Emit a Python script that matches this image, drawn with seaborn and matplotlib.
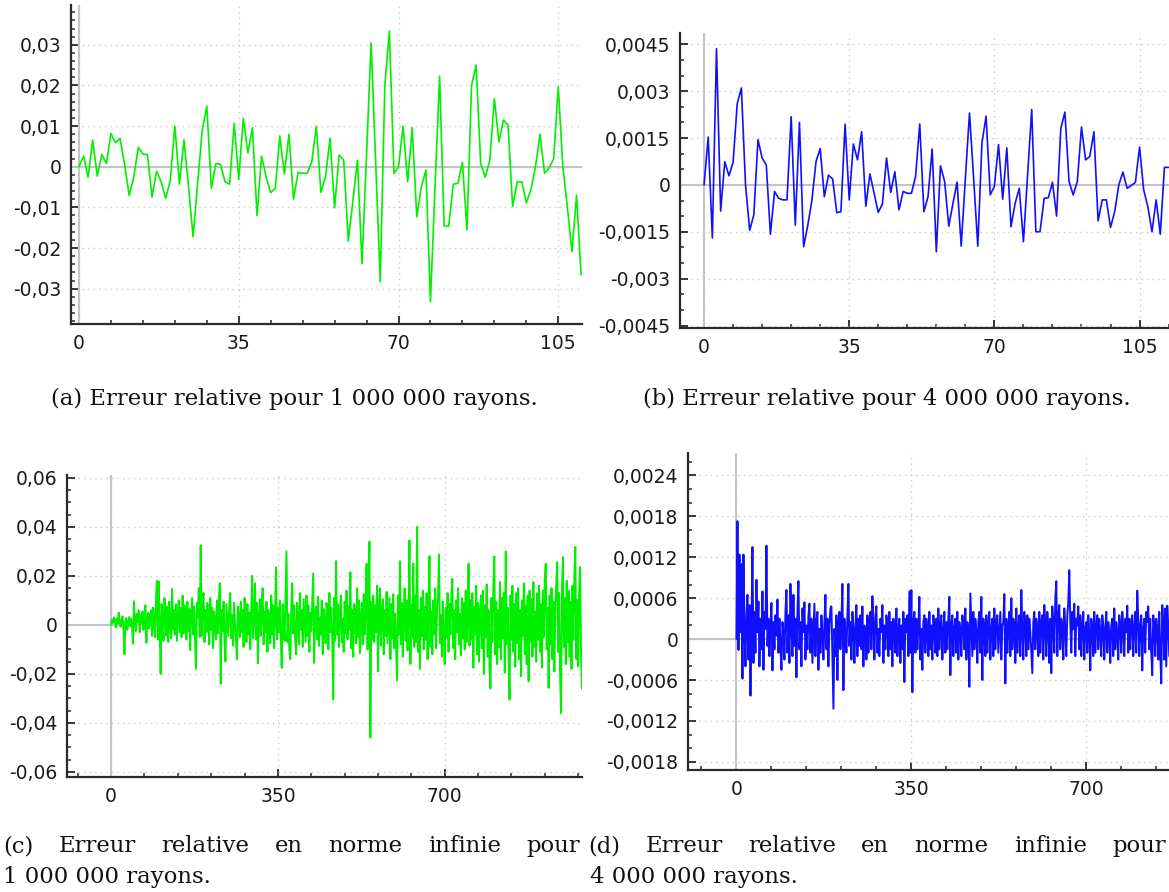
import numpy as np
import pandas as pd
import matplotlib
matplotlib.use("Agg")
import matplotlib.pyplot as plt
import seaborn as sns
from matplotlib.ticker import MultipleLocator

# ---------------- data ----------------
# (a) relative error, 1 000 000 rays, one value per x = 0, 1, 2, ...
a_err = [0, 0.0026, -0.0026, 0.0066, -0.0023, 0.003, 0.0008, 0.0082, 0.0059, 0.007,
         0.0005, -0.0071, -0.0025, 0.0048, 0.0031, 0.003, -0.0075, -0.0011, -0.0037, -0.0078,
         -0.0033, 0.01, -0.0043, 0.0066, -0.005, -0.0172, -0.004, 0.009, 0.0149, -0.0053,
         0.0008, 0.0006, -0.0037, -0.0043, 0.0107, -0.0031, 0.0119, 0.0034, 0.0096, -0.012,
         0.0026, -0.0025, -0.0064, -0.0053, 0.0076, -0.0018, 0.008, -0.008, -0.0014, -0.0016,
         -0.0016, 0.0012, 0.01, -0.0063, -0.0025, 0.007, -0.0101, 0.0029, 0.0016, -0.0183,
         -0.0085, 0.0016, -0.0239, 0.003, 0.0305, 0.001, -0.0283, 0.02, 0.0334, -0.0016,
         0.0, 0.01, -0.0037, 0.0096, -0.0123, -0.005, -0.0008, -0.0332, -0.005, 0.0223,
         -0.0146, -0.0146, -0.0043, -0.0041, 0.0011, -0.0156, 0.02, 0.025, 0.0008, -0.0026,
         0.0016, 0.0168, 0.0061, 0.0115, 0.0102, -0.0098, -0.0037, -0.0037, -0.0089, -0.0057,
         0.0, 0.008, -0.0016, -0.0003, 0.002, 0.0197, 0.0, -0.01, -0.0209, -0.007,
         -0.0266]

# (b) relative error, 4 000 000 rays, one value per x = 0, 1, 2, ...
b_err = [0, 0.00153, -0.0017, 0.00436, -0.00084, 0.00074, 0.00029, 0.00072, 0.0026, 0.0031,
         0.0, -0.00145, -0.00096, 0.00145, 0.00086, 0.00064, -0.00158, -0.00021, -0.00043, -0.00048,
         -0.00048, 0.00218, -0.00129, 0.002, -0.00198, -0.0013, -0.0005, 0.00075, 0.00116, -0.00038,
         0.00031, 0.00019, -0.00089, -0.00086, 0.00194, -0.00048, 0.00131, 0.0008, 0.0017, -0.00068,
         0.00035, -0.00027, -0.00088, -0.00061, 0.00086, -0.00024, 0.00042, -0.0008, -0.00021, -0.00027,
         -0.00027, 0.00027, 0.00195, -0.00086, -0.00038, 0.00115, -0.00214, 0.00061, 0.00011, -0.00132,
         -0.0006, 0.00009, -0.00196, 0.0002, 0.0023, 0.0002, -0.00196, 0.00134, 0.0022, -0.00032,
         -0.00005, 0.00129, -0.00046, 0.00118, -0.00134, -0.00059, -0.00011, -0.00182, 0.0003, 0.00241,
         -0.0015, -0.0015, -0.00043, -0.00041, 0.00008, -0.001, 0.00179, 0.00233, 0.00011, -0.00032,
         0.00011, 0.00185, 0.0008, 0.00091, 0.0017, -0.00115, -0.00048, -0.00048, -0.00136, -0.00086,
         0.0, 0.00041, -0.00011, -0.00002, 0.00008, 0.00121, -0.00016, -0.0007, -0.0015, -0.00048,
         -0.00158, 0.00056, 0.00056]

# (c) infinity-norm relative error, 1 000 000 rays, in units of 1e-4, sampled every 2 on x
c_step = 2
c_err_e4 = [
    0, 22, 8, 30, 14, -10, 26, 5, 50, 12, -8, 20, 35, -15, -120, 18, 28, -20, 10, 32, -5, 24, -10, -77, 96,
    20, -25, 45, 10, 60, -30, 38, 5, 55, -20, 42, 80, -73, 25, 50, -15, 35, 60, -45, 70, 20, -50, 90, 180, -60,
    178, -30, -200, 85, 40, -65, 110, 20, -45, 75, -70, 95, 10, -55, 147, -20, 60, -40, 85, -65, 45, 100, -30, 70, -50,
    120, -35, 80, 15, -60, 95, -25, 65, -103, 50, 110, -40, 75, -55, -180, 90, 30, 150, -50, 325, -45, 105, 130, -70, 60,
    -30, 90, 40, -80, 110, -20, 70, -95, 55, 15, -60, 100, -35, 80, 170, -240, 60, -25, 95, -70, -150, 85, 20, -45, 70,
    130, -55, 40, -85, 90, 10, -60, -140, 75, 35, -50, 95, -30, 60, -90, 110, 25, -70, 85, -40, 50, -100, 65, 200, -55,
    40, 170, -60, 90, -157, 30, 105, -45, 70, 150, -80, 55, -30, 95, -110, 60, 10, -75, 120, -40, 80, -95, 35, 235, -60,
    70, -30, 100, -50, -175, 85, 20, -65, 110, 300, -70, 45, -100, -140, 65, 170, -35, 80, -55, -120, 90, 25, -80, 130, -20,
    60, -90, 105, 15, -70, 120, -45, 80, -110, 50, -25, 95, 210, -155, 40, 75, -60, 115, -85, 30, -40, 100, -120, 65, 20,
    -75, 90, 45, -100, 130, -30, 70, -50, -305, 110, -65, 260, -40, 85, -90, 50, 120, -70, 25, -110, 95, -35, 140, -60, 75,
    -20, 215, -95, 60, -130, 85, 40, -75, 150, -50, 100, -115, 30, 90, -80, 125, -40, 70, 250, -100, 55, 340, -460, 95, -60,
    120, -70, 80, -30, 160, -190, 65, 150, -85, 40, 105, -120, 60, -45, 135, -75, 20, 110, -140, 85, -55, 125, -95, 45, -90,
    -227, 120, -40, 260, -80, 90, -130, 55, 150, -65, 100, -105, 70, 345, -160, 80, -50, 250, -90, 120, -70, 400, -110, 60, -180,
    110, -45, 140, -100, 75, -60, 130, -140, 85, 280, -90, 55, -120, 100, -40, 150, -95, 65, 120, 288, -75, 40, -130, 95, -60,
    -160, 70, -50, 130, -110, 85, -40, 120, 188, -95, 60, -140, 100, -30, 150, -80, 45, -125, 110, -55, 90, -100, 140, -70, 35,
    250, -85, 100, -60, 130, -175, 75, -40, 160, -120, 90, -150, 55, 120, -95, 140, -200, 80, -50, 165, -130, 60, -180, -260, 110,
    -70, 150, 280, -120, 95, -160, 60, -90, 175, -140, 110, -55, 130, -195, 300, -80, 70, -130, -305, 120, -60, 160, -110, 85, -170,
    130, -75, 150, -140, 60, -210, 100, -45, 170, -120, 80, -160, 120, -230, 140, -70, 105, -130, 175, -90, 55, -150, 130, -60, 160,
    -110, 85, -175, 140, -50, 190, 250, -100, 70, -257, 120, -80, 150, -140, 95, -190, 60, 170, 256, -110, 130, -200, -360, 140, 277,
    -90, 110, -160, 180, -70, 140, -130, 95, -180, 160, -60, 200, 318, -140, 100, -170, 130, 236, -120, -260]

# (d) infinity-norm relative error, 4 000 000 rays, in units of 1e-5, sampled every 2 on x
d_step = 2
d_err_e5 = [
    0, 173, -16, 124, 10, 110, -58, 124, 20, -40, 35, 65, -30, 50, -83, 20, 135, -35, 40, -20, 87, 10, 55, -40, 30,
    -15, 70, -45, 40, 15, 137, -10, 30, -25, 20, 53, -46, 25, -15, 35, 5, 58, -20, 30, -10, -45, 25, 10, -30, 40,
    72, -20, 35, -35, 81, 20, -25, 65, -10, 30, -56, 40, 85, -15, 25, -40, 45, 10, 54, -30, 20, -15, 35, 52, -20,
    30, -35, 10, 52, -25, 25, 40, -45, 15, -20, 35, 5, -30, 25, 65, -15, 30, -40, 20, 45, 48, -30, -102, 15, -25,
    35, -60, 20, 40, -15, 25, 81, -75, 30, 10, -20, 35, 81, -10, 25, -30, 40, 15, -35, 20, 50, -25, 30, -10, 35,
    -15, 48, -40, 20, 10, -30, 35, -20, 25, 40, -15, 63, 20, -30, 35, 48, -20, 15, -25, 30, 10, 50, -35, 20, -15,
    35, 20, -25, 40, -15, 25, -40, 30, 10, -20, 45, -25, 15, 30, -35, 20, -15, 40, -63, 30, 10, 35, -25, 70, -20,
    72, -78, 25, 40, -20, 30, -15, 20, 62, -30, 15, -45, 25, 35, -20, 30, 10, -25, 40, -15, 20, -30, 35, 15, -20,
    30, -25, 45, -15, 20, 35, -30, 10, 40, -20, 25, -15, 30, 62, -53, 20, 35, -25, 15, 30, -20, 40, -30, 25, 10,
    -25, 35, 20, -15, 45, -30, 25, 15, -70, 67, 20, -25, 40, -15, 30, 10, -35, 25, 40, -20, 62, -60, 30, 15, -25,
    35, -20, 20, 40, -30, 15, 30, -25, 45, -15, 25, 35, -20, 10, 40, -30, 20, 25, 66, -65, 30, -20, 15, 40, -25,
    60, -15, 30, 20, -35, 45, -20, 15, 35, -25, 72, 10, -30, 40, 20, -25, 35, -15, 30, 10, -20, -50, 25, 40, -15,
    30, 15, -25, 40, -20, 25, 35, -30, 50, 20, -25, 40, 15, -35, 30, -50, 48, 20, -20, 60, 85, -25, 35, 50, -15,
    30, 20, -30, 45, 15, -25, 35, 55, 101, 25, -20, 40, 15, 52, -25, 30, 20, 48, -15, 35, -25, 20, 40, -30, 15,
    25, -20, 35, 10, -46, 30, 15, -25, 40, -20, 20, 35, -15, 30, 10, -25, 35, 20, -30, 15, 40, -20, 25, 10, -35,
    20, 30, -25, 45, -15, 25, 10, -30, 35, 20, -20, 40, 15, -25, 30, 10, 49, -20, 30, -15, 25, 35, -25, 15, 40,
    -20, 71, 30, -25, 20, 35, -46, 15, 30, -20, 40, 25, 48, -15, 30, -20, -53, 35, 20, -25, 30, 15, -30, 40, -20,
    -65, 50, 25, -30, 45, -40, 49, 20, -25]

# axis ticks and labels
a_xticks = [0, 35, 70, 105]
a_yticks = [-0.03, -0.02, -0.01, 0, 0.01, 0.02, 0.03]
a_ylabels = ["-0,03", "-0,02", "-0,01", "0", "0,01", "0,02", "0,03"]
b_xticks = [0, 35, 70, 105]
b_yticks = [-0.0045, -0.003, -0.0015, 0, 0.0015, 0.003, 0.0045]
b_ylabels = ["-0,0045", "-0,003", "-0,0015", "0", "0,0015", "0,003", "0,0045"]
c_xticks = [0, 350, 700]
c_yticks = [-0.06, -0.04, -0.02, 0, 0.02, 0.04, 0.06]
c_ylabels = ["-0,06", "-0,04", "-0,02", "0", "0,02", "0,04", "0,06"]
d_xticks = [0, 350, 700]
d_yticks = [-0.0018, -0.0012, -0.0006, 0, 0.0006, 0.0012, 0.0018, 0.0024]
d_ylabels = ["-0,0018", "-0,0012", "-0,0006", "0", "0,0006", "0,0012", "0,0018", "0,0024"]

cap_a = "(a) Erreur relative pour 1 000 000 rayons."
cap_b = "(b) Erreur relative pour 4 000 000 rayons."
cap_c1 = "(c) Erreur relative en norme infinie pour"
cap_c2 = "1 000 000 rayons."
cap_d1 = "(d) Erreur relative en norme infinie pour"
cap_d2 = "4 000 000 rayons."

# ---------------- figure ----------------
sns.set_theme(style="white")
plt.rcParams['font.family'] = ['DejaVu Sans']

W, H = 1169, 892
fig = plt.figure(figsize=(W / 100, H / 100), dpi=100)
fig.patch.set_facecolor("white")


def box(l, r, t, b):
    return [l / W, 1 - b / H, (r - l) / W, (b - t) / H]


GREEN = "#00f000"
BLUE = "#1010ff"


def panel(rect, x, y, color, lw, xlim, ylim, xticks, yticks, ylabels, xminor, yminor):
    ax = fig.add_axes(rect)
    ax.set_facecolor("white")
    ax.axhline(0, color="#c4c4c4", lw=1.5, zorder=1)
    ax.axvline(0, color="#c4c4c4", lw=1.5, zorder=1)
    df = pd.DataFrame({"x": x, "y": y})
    sns.lineplot(data=df, x="x", y="y", ax=ax, color=color, linewidth=lw,
                 estimator=None, sort=True, zorder=3)
    ax.set_xlim(*xlim)
    ax.set_ylim(*ylim)
    ax.set_xticks(xticks, [str(v) for v in xticks])
    ax.set_yticks(yticks, ylabels)
    ax.xaxis.set_minor_locator(MultipleLocator(xminor))
    ax.yaxis.set_minor_locator(MultipleLocator(yminor))
    ax.set_xlabel("")
    ax.set_ylabel("")
    ax.grid(True, which="major", color="#c8c8c8", lw=1.0, linestyle=(0, (1, 3)))
    for s in ["top", "right"]:
        ax.spines[s].set_visible(False)
    for s in ["left", "bottom"]:
        ax.spines[s].set_visible(True)
        ax.spines[s].set_color("#2a2a2a")
        ax.spines[s].set_linewidth(1.6)
    ax.tick_params(which="major", direction="in", length=6, width=1.3, color="#2a2a2a",
                   labelsize=13.5, labelcolor="#1a1a1a", left=True, bottom=True)
    ax.tick_params(which="minor", direction="in", length=3, width=1.1, color="#2a2a2a",
                   left=True, bottom=True)
    ax.tick_params(axis="y", which="major", pad=7)
    ax.tick_params(axis="x", which="major", pad=7)
    return ax


panel(box(71, 582, 5, 324), np.arange(len(a_err)), a_err, GREEN, 1.2,
      (-1.75, 110.2), (-0.0387, 0.0398), a_xticks, a_yticks, a_ylabels, 7, 0.002)
panel(box(680, 1169, 33, 328), np.arange(len(b_err)), b_err, BLUE, 1.2,
      (-5.8, 112.1), (-0.00458, 0.00486), b_xticks, b_yticks, b_ylabels, 7, 0.0005)
panel(box(67, 582, 475, 777), np.arange(len(c_err_e4)) * c_step, np.array(c_err_e4) * 1e-4, GREEN, 1.4,
      (-92.5, 988), (-0.0621, 0.0612), c_xticks, c_yticks, c_ylabels, 70, 0.005)
panel(box(688, 1169, 453, 770), np.arange(len(d_err_e5)) * d_step, np.array(d_err_e5) * 1e-5, BLUE, 1.4,
      (-97, 865.5), (-0.00192, 0.00273), d_xticks, d_yticks, d_ylabels, 70, 0.0002)

# ---------------- captions ----------------
cap_kw = dict(family=["DejaVu Serif"], fontsize=16.4, color="#111111", va="baseline")
fig.text(51 / W, 1 - 405 / H, cap_a, ha="left", **cap_kw)
fig.text(643 / W, 1 - 405 / H, cap_b, ha="left", **cap_kw)

renderer = fig.canvas.get_renderer()


def justified(line, x0, x1, ybase):
    words = line.split(" ")
    texts = [fig.text(0, 0, w, ha="left", **cap_kw) for w in words]
    widths = [t.get_window_extent(renderer).width for t in texts]
    gap = (x1 - x0 - sum(widths)) / (len(words) - 1)
    x = x0
    for t, w in zip(texts, widths):
        t.set_position((x / W, 1 - ybase / H))
        x += w + gap


justified(cap_c1, 3, 580, 852)
fig.text(3 / W, 1 - 883 / H, cap_c2, ha="left", **cap_kw)
justified(cap_d1, 588, 1166, 852)
fig.text(590 / W, 1 - 883 / H, cap_d2, ha="left", **cap_kw)

fig.savefig("out.png", dpi=100, facecolor="white")
